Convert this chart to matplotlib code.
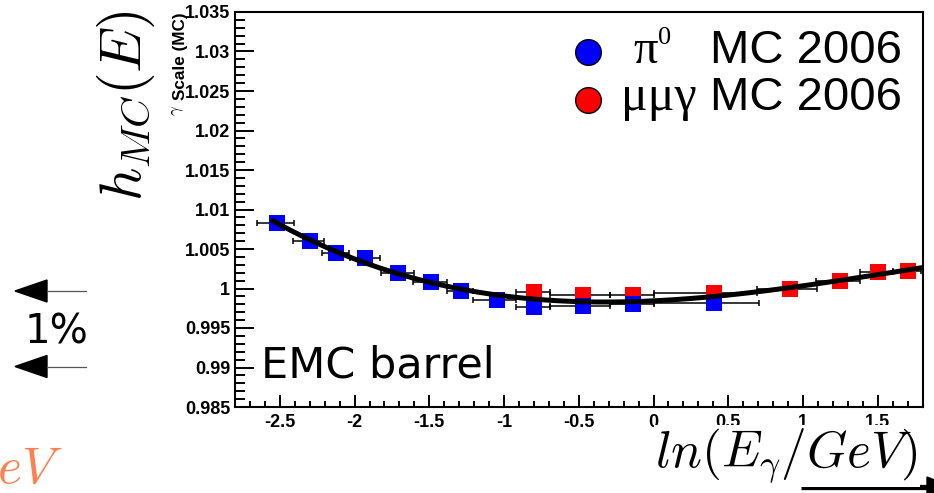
import matplotlib
matplotlib.use("Agg")
import matplotlib.pyplot as plt
import numpy as np
from matplotlib.ticker import MultipleLocator, FixedLocator
from matplotlib.patches import Polygon
from matplotlib.lines import Line2D

plt.rcParams["mathtext.fontset"] = "cm"

# pi0 MC 2006 photon energy scale
x_pi0 = [-2.52, -2.30, -2.125, -1.93, -1.71, -1.49, -1.29, -1.05, -0.80, -0.474, -0.136, 0.404]
y_pi0 = [1.0083, 1.0060, 1.0045, 1.0039, 1.0019, 1.0008, 0.9997, 0.9986, 0.9977, 0.9978, 0.9981, 0.9982]
xlo_pi0 = [0.133, 0.109, 0.090, 0.100, 0.116, 0.120, 0.093, 0.160, 0.117, 0.220, 0.156, 0.400]
xhi_pi0 = [0.118, 0.096, 0.087, 0.100, 0.107, 0.110, 0.085, 0.130, 0.105, 0.180, 0.138, 0.300]

# mu mu gamma MC 2006 photon energy scale
x_mmg = [-0.80, -0.474, -0.136, 0.404, 0.912, 1.25, 1.50, 1.70]
y_mmg = [0.9995, 0.9992, 0.9992, 0.9994, 0.9999, 1.0010, 1.0021, 1.0022]
xlo_mmg = [0.117, 0.220, 0.156, 0.400, 0.220, 0.160, 0.120, 0.100]
xhi_mmg = [0.105, 0.180, 0.138, 0.290, 0.180, 0.130, 0.100, 0.090]

x_ticks = [-2.5, -2, -1.5, -1, -0.5, 0, 0.5, 1, 1.5]
x_ticklabels = ["-2.5", "-2", "-1.5", "-1", "-0.5", "0", "0.5", "1", "1.5"]
y_ticks = [0.985, 0.99, 0.995, 1.0, 1.005, 1.01, 1.015, 1.02, 1.025, 1.03, 1.035]
y_ticklabels = ["0.985", "0.99", "0.995", "1", "1.005", "1.01", "1.015", "1.02", "1.025", "1.03", "1.035"]

W, H = 934, 493
fig = plt.figure(figsize=(W / 100, H / 100), dpi=100)
fig.patch.set_facecolor("white")

ax = fig.add_axes([235 / W, 1 - 407 / H, (922.6 - 235) / W, (407 - 12) / H])
ax.set_xlim(-2.8, 1.8)
ax.set_ylim(0.985, 1.035)
for s in ax.spines.values():
    s.set_linewidth(1.5)
ax.xaxis.set_major_locator(FixedLocator(x_ticks))
ax.set_xticklabels(x_ticklabels)
ax.yaxis.set_major_locator(FixedLocator(y_ticks))
ax.set_yticklabels(y_ticklabels)
ax.xaxis.set_minor_locator(MultipleLocator(0.1))
ax.yaxis.set_minor_locator(MultipleLocator(0.001))
ax.tick_params(axis="both", which="both", direction="in", top=False, right=False, width=1.4)
ax.tick_params(axis="y", which="major", length=14, pad=3.5)
ax.tick_params(axis="y", which="minor", length=7)
ax.tick_params(axis="x", which="major", length=9, pad=5)
ax.tick_params(axis="x", which="minor", length=4.5)
for lab in ax.get_xticklabels() + ax.get_yticklabels():
    lab.set_family("Liberation Sans")
    lab.set_fontweight("bold")
    lab.set_fontsize(13)

err_kw = dict(fmt="none", ecolor="black", elinewidth=1.1, capsize=2.2, capthick=1.1, zorder=2)
ax.errorbar(x_mmg, y_mmg, xerr=[xlo_mmg, xhi_mmg], **err_kw)
ax.errorbar(x_pi0, y_pi0, xerr=[xlo_pi0, xhi_pi0], **err_kw)
ax.plot(x_mmg, y_mmg, "s", color="#ff0000", ms=11, mew=0, zorder=3)
ax.plot(x_pi0, y_pi0, "s", color="#0000ff", ms=11, mew=0, zorder=4)

# polynomial fit through both samples
x_all = np.array(x_pi0 + x_mmg)
y_all = np.array(y_pi0 + y_mmg)
coef = np.polyfit(x_all, y_all, 3)
xf = np.linspace(-2.56, 1.8, 300)
ax.plot(xf, np.polyval(coef, xf), color="black", lw=3.6, zorder=5, solid_capstyle="butt")

# overlay in pixel coordinates for labels and annotations
ov = fig.add_axes([0, 0, 1, 1], zorder=10)
ov.set_xlim(0, W)
ov.set_ylim(H, 0)
ov.axis("off")
ov.patch.set_visible(False)

# legend
ov.add_line(Line2D([588], [52], marker="o", ms=18.5, mfc="#0000ff", mec="black", mew=1.0))
ov.add_line(Line2D([588], [100], marker="o", ms=18.5, mfc="#ff0000", mec="black", mew=1.0))
ov.text(633, 63, "π", family="Liberation Serif", fontsize=35, va="baseline", ha="left")
ov.text(658, 44, "0", family="Liberation Serif", fontsize=19, va="baseline", ha="left")
ov.text(710, 63, "MC 2006", family="Liberation Sans", fontsize=34, va="baseline", ha="left")
ov.text(621, 110, "μμγ", family="Liberation Serif", fontsize=36, va="baseline", ha="left")
ov.text(710, 110, "MC 2006", family="Liberation Sans", fontsize=34, va="baseline", ha="left")

ov.text(261, 378, "EMC barrel", family="DejaVu Sans", fontsize=31, va="baseline", ha="left")

# axis titles
ov.text(180, 12, "Scale (MC)", family="Liberation Sans", fontweight="bold", fontsize=12.3,
        rotation=90, ha="center", va="top")
ov.text(177, 110, r"$\gamma$", fontsize=12, rotation=90, ha="center", va="center")
ov.text(126, 106, r"$h_{MC}(E)$", fontsize=42, rotation=90, ha="center", va="center")
ov.text(918, 467, r"$ln(E_{\gamma}/GeV)$", fontsize=37, ha="right", va="baseline",
        bbox=dict(facecolor="white", edgecolor="none", pad=1))

# 1% scale marker
for yy in (291, 366.5):
    ov.add_patch(Polygon([[15, yy], [47, yy - 11], [47, yy + 11]], closed=True, color="black"))
    ov.plot([47, 86], [yy, yy], color="#555555", lw=0.9)
ov.text(25, 343, "1%", family="DejaVu Sans", fontsize=29, va="baseline", ha="left")

ov.text(63, 483, r"$GeV$", fontsize=37, color="#ff7f4f", ha="right", va="baseline")

# arrow at lower right
ov.plot([801, 930], [487, 487], color="black", lw=3.8, solid_capstyle="butt")
ov.add_patch(Polygon([[952, 487], [927, 477], [927, 497]], closed=True, color="black", clip_on=False))

fig.savefig("out.png", dpi=100)
